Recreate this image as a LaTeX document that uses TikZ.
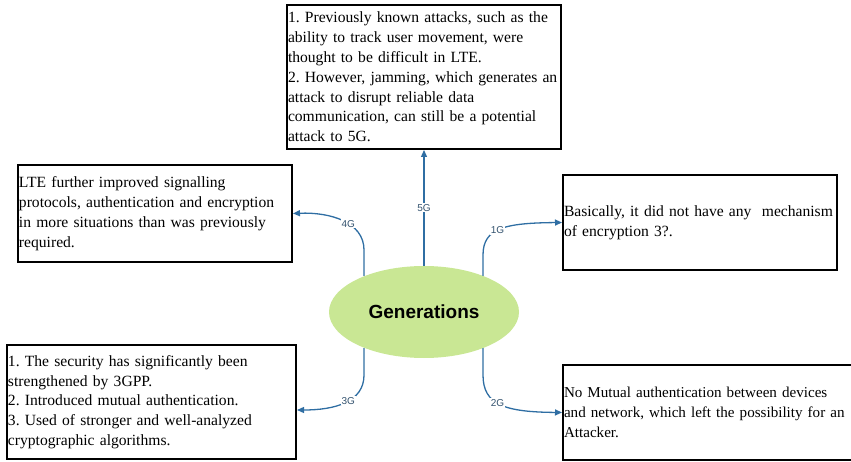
\documentclass[tikz,border=0pt]{standalone}
\usepackage{fontspec}
\setmainfont{Liberation Serif}
\setsansfont{Liberation Sans}
\usetikzlibrary{arrows.meta,shapes.geometric,calc}
\definecolor{linkblue}{HTML}{2F6EA3}
\definecolor{hubgreen}{HTML}{C9E794}
\definecolor{lblgray}{HTML}{34536F}
\begin{document}
\frenchspacing
\hyphenpenalty=10000
\begin{tikzpicture}[x=1pt,y=-1pt,
  box/.style={draw=black, line width=2pt, fill=white, inner xsep=0.5pt,
    inner ysep=1.5pt, align=left,
    font=\fontsize{15.6}{19.8}\selectfont},
  conn/.style={draw=linkblue, line width=1.3pt,
    -{Triangle[length=7pt,width=6pt]}},
  lbl/.style={fill=white, inner sep=1pt, text=lblgray,
    font=\sffamily\fontsize{10}{11}\selectfont},
  hub/.style={ellipse, fill=hubgreen, inner sep=0pt,
    minimum width=190pt, minimum height=92pt,
    font=\sffamily\bfseries\fontsize{19}{23}\selectfont}]
\useasboundingbox (0,0) rectangle (851,462);

% central hub
\node[hub] (gen) at (424,312) {Generations};

% one box per generation
\node[box, minimum width=274pt, minimum height=144pt, text width=272pt]
  (b5) at (424,77)
  {1. Previously known attacks, such as the\\
   ability to track user movement, were\\
   thought to be difficult in LTE.\\
   2. However, jamming, which generates an\\
   attack to disrupt reliable data\\
   communication, can still be a potential\\
   attack to 5G.};
\node[box, minimum width=274pt, minimum height=97pt, text width=272pt]
  (b4) at (155,213.5)
  {LTE further improved signalling\\
   protocols, authentication and encryption\\
   in more situations than was previously\\
   required.};
\node[box, minimum width=274pt, minimum height=95pt, text width=272pt]
  (b1) at (700,222.5)
  {Basically, it did not have any~ mechanism\\
   of encryption 3?.};
\node[box, minimum width=289pt, minimum height=114pt, text width=287pt]
  (b3) at (151.5,402)
  {1. The security has significantly been\\
   strengthened by 3GPP.\\
   2. Introduced mutual authentication.\\
   3. Used of stronger and well-analyzed\\
   cryptographic algorithms.};
\node[box, minimum width=295pt, minimum height=95pt, text width=293pt,
  font=\fontsize{15.1}{19.8}\selectfont]
  (b2) at (710.5,412.5)
  {No Mutual authentication between devices\\
   and network, which left the possibility for an\\
   Attacker.};

% start points on the hub's rim
\coordinate (s4) at ($(gen.center)+(-60,-36)$);
\coordinate (s1) at ($(gen.center)+(59,-36)$);
\coordinate (s3) at ($(gen.center)+(-60,36)$);
\coordinate (s2) at ($(gen.center)+(59,36)$);
\coordinate (t3) at ($(b3.east)+(0,8)$);

% connectors
\draw[conn] (gen.north) -- (b5.south) node[lbl, midway] {5G};
\draw[conn] (s4) -- (364,250) .. controls (364,222) and (330,212) .. (b4.east)
  node[lbl, pos=0.42] {4G};
\draw[conn] (s1) -- (483,255) .. controls (483,228) and (505,223) .. (b1.west)
  node[lbl, pos=0.45] {1G};
\draw[conn] (s3) -- (364,375) .. controls (364,402) and (335,410) .. (t3)
  node[lbl, pos=0.45] {3G};
\draw[conn] (s2) -- (483,375) .. controls (483,405) and (505,412) .. (b2.west)
  node[lbl, pos=0.45] {2G};
\end{tikzpicture}
\end{document}
